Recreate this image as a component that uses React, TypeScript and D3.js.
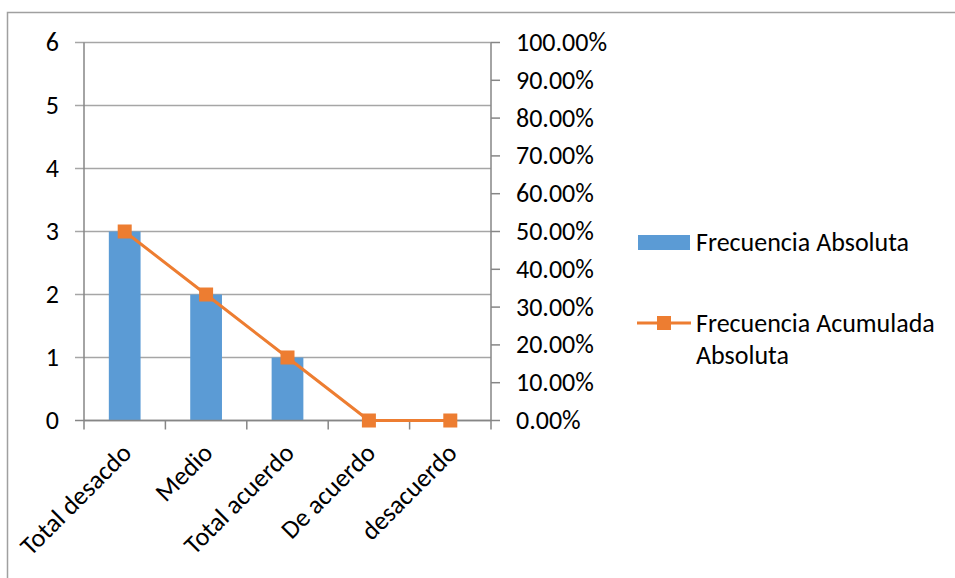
import React from "react";
import * as d3 from "d3";

const categories = ["Total desacdo", "Medio", "Total acuerdo", "De acuerdo", "desacuerdo"];
const frecuenciaAbsoluta = [3, 2, 1, 0, 0];
const frecuenciaAcumulada = [0.5, 0.3333, 0.1667, 0, 0];
const leftTicks = [0, 1, 2, 3, 4, 5, 6];
const rightTicks = [0, 0.1, 0.2, 0.3, 0.4, 0.5, 0.6, 0.7, 0.8, 0.9, 1.0];

const W = 955;
const H = 578;
const plot = { left: 84, right: 491, top: 42.5, bottom: 420.5 };
const FONT = "Carlito, Calibri, 'Open Sans', sans-serif";
const FS = 26;
const BLUE = "#5B9BD5";
const ORANGE = "#ED7D31";
const GRID = "#A6A6A6";
const AXIS = "#868686";

export default function App() {
  const x = d3.scaleBand<string>().domain(categories).range([plot.left, plot.right]).paddingInner(0).paddingOuter(0);
  const yL = d3.scaleLinear().domain([0, 6]).range([plot.bottom, plot.top]);
  const yR = d3.scaleLinear().domain([0, 1]).range([plot.bottom, plot.top]);
  const barW = x.bandwidth() * 0.39;
  const cx = (c: string) => (x(c) as number) + x.bandwidth() / 2;
  const line = d3
    .line<number>()
    .x((_, i) => cx(categories[i]))
    .y((d) => yR(d));
  const pct = d3.format(".2%");

  return (
    <svg width={W} height={H} style={{ position: "absolute", left: 0, top: 0, background: "#fff" }} fontFamily={FONT}>
      <rect x={7.5} y={12.5} width={W} height={H} fill="#fff" stroke="#A0A0A0" strokeWidth={1.5} />

      {/* horizontal gridlines with left tick stubs */}
      {leftTicks.map((t) => (
        <g key={"l" + t}>
          <line x1={75} x2={plot.right} y1={yL(t)} y2={yL(t)} stroke={t === 0 ? AXIS : GRID} strokeWidth={1.5} />
          <text x={59} y={yL(t)} dy="0.33em" textAnchor="end" fontSize={FS} fill="#000">
            {t}
          </text>
        </g>
      ))}

      {/* left axis */}
      <line x1={plot.left} x2={plot.left} y1={plot.top} y2={plot.bottom} stroke={AXIS} strokeWidth={1.5} />

      {/* right axis */}
      <line x1={plot.right} x2={plot.right} y1={plot.top} y2={plot.bottom} stroke={AXIS} strokeWidth={1.5} />
      {rightTicks.map((t) => (
        <g key={"r" + t}>
          <line x1={plot.right} x2={plot.right + 9} y1={yR(t)} y2={yR(t)} stroke={AXIS} strokeWidth={1.5} />
          <text x={516} y={yR(t)} dy="0.33em" textAnchor="start" fontSize={FS} fill="#000">
            {pct(t)}
          </text>
        </g>
      ))}

      {/* category tick marks */}
      {[...categories.map((c) => x(c) as number), plot.right].map((px, i) => (
        <line key={"ct" + i} x1={px} x2={px} y1={plot.bottom} y2={plot.bottom + 9} stroke={AXIS} strokeWidth={1.5} />
      ))}

      {/* bars */}
      {categories.map((c, i) => (
        <rect
          key={"b" + c}
          x={cx(c) - barW / 2}
          y={yL(frecuenciaAbsoluta[i])}
          width={barW}
          height={plot.bottom - yL(frecuenciaAbsoluta[i])}
          fill={BLUE}
        />
      ))}
      <line x1={plot.left} x2={plot.right} y1={plot.bottom} y2={plot.bottom} stroke={AXIS} strokeWidth={1.5} />

      {/* cumulative line */}
      <path d={line(frecuenciaAcumulada) || ""} fill="none" stroke={ORANGE} strokeWidth={3} strokeLinejoin="round" />
      {frecuenciaAcumulada.map((v, i) => (
        <rect key={"m" + i} x={cx(categories[i]) - 7} y={yR(v) - 7} width={14} height={14} fill={ORANGE} />
      ))}

      {/* category labels */}
      {categories.map((c) => (
        <text
          key={"cl" + c}
          transform={`translate(${cx(c) - 6},${plot.bottom + 20}) rotate(-45)`}
          textAnchor="end"
          dominantBaseline="hanging"
          fontSize={FS}
          fill="#000"
        >
          {c}
        </text>
      ))}

      {/* legend */}
      <rect x={638} y={235} width={52} height={15} fill={BLUE} />
      <text x={696} y={251} fontSize={FS} fill="#000">
        Frecuencia Absoluta
      </text>
      <line x1={637} x2={691} y1={323} y2={323} stroke={ORANGE} strokeWidth={3} />
      <rect x={657} y={316} width={14} height={14} fill={ORANGE} />
      <text x={696} y={332} fontSize={FS} fill="#000">
        Frecuencia Acumulada
      </text>
      <text x={696} y={364} fontSize={FS} fill="#000">
        Absoluta
      </text>
    </svg>
  );
}
